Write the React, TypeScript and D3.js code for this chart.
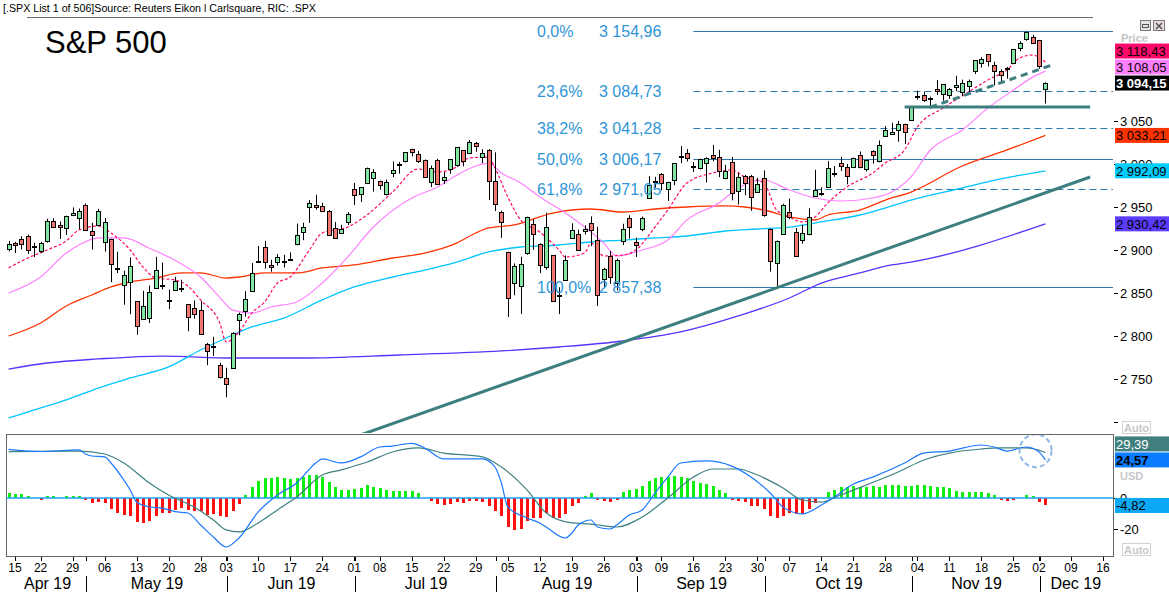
import React from "react";
import * as d3 from "d3";

// ---------- DATA ----------
const HOLIDAYS = ["2019-04-19", "2019-05-27", "2019-07-04", "2019-09-02", "2019-11-28"];
const FIRST_SESSION = "2019-04-12";
const AXIS_END = "2019-12-20";

const opens = [
  2900.86, 2908.32, 2912.26, 2916.04, 2904.81,
  2898.78, 2909.99, 2934.0, 2928.99, 2925.81,
  2940.58, 2937.14, 2952.33, 2922.16, 2929.21,
  2908.89, 2913.03, 2879.61, 2859.84, 2863.1,
  2840.19, 2820.12, 2820.38, 2855.8, 2858.6,
  2841.94, 2854.02, 2856.06, 2836.7, 2832.41,
  2830.03, 2790.25, 2786.94, 2766.15,
  2751.53, 2762.64, 2818.09, 2828.51, 2852.87,
  2885.83, 2903.27, 2882.73, 2886.24, 2886.82,
  2889.75, 2906.71, 2920.55, 2949.6, 2952.71,
  2951.42, 2945.78, 2926.07, 2919.66, 2932.94,
  2971.41, 2964.66, 2978.08, 2984.25,
  2979.77, 2965.52, 2989.3, 2999.62, 3003.36,
  3017.8, 3012.13, 3005.1, 2978.87, 3004.26,
  2981.93, 2994.74, 2998.77, 3016.26, 3013.25,
  3024.47, 3007.66, 3016.22, 2980.32, 2943.9,
  2898.07, 2861.18, 2858.65, 2896.21, 2930.51,
  2907.07, 2880.72, 2894.15, 2846.2, 2864.74,
  2913.48, 2919.01, 2922.04, 2930.94, 2911.07,
  2866.7, 2893.14, 2861.28, 2910.37, 2937.09,
  2909.01, 2924.67, 2960.6, 2980.33,
  2988.43, 2971.01, 2981.41, 3009.08, 3012.21,
  2996.41, 2995.67, 3001.5, 3010.36, 3008.42,
  2983.5, 3002.43, 2968.35, 2985.73, 2985.47,
  2967.07, 2983.69, 2924.78, 2885.38, 2918.56,
  2944.23, 2920.4, 2911.1, 2918.55, 2963.07,
  2965.81, 2973.61, 2989.68, 3000.77, 2996.84,
  2996.48, 3010.73, 2994.01, 3014.78, 3003.32,
  3032.12, 3035.39, 3039.74, 3046.9, 3050.72,
  3078.96, 3080.8, 3075.1, 3087.02, 3081.25,
  3080.33, 3089.28, 3084.18, 3090.75, 3107.92,
  3117.91, 3127.45, 3114.66, 3108.49, 3111.41,
  3117.44, 3134.85, 3145.49, 3147.18,
  3143.85, 3087.41,
];
const highs = [
  2910.54, 2909.6, 2916.06, 2918.0, 2908.4,
  2909.51, 2936.31, 2936.83, 2933.1, 2939.88,
  2949.52, 2948.22, 2954.13, 2931.68, 2947.85,
  2937.32, 2913.03, 2897.96, 2875.97, 2891.31,
  2840.19, 2852.54, 2858.68, 2892.15, 2885.48,
  2853.86, 2868.88, 2865.47, 2836.7, 2841.36,
  2840.51, 2792.03, 2799.0, 2768.98,
  2763.07, 2804.49, 2827.28, 2852.1, 2884.97,
  2904.77, 2910.61, 2888.57, 2895.24, 2894.45,
  2897.27, 2930.79, 2931.74, 2958.06, 2964.15,
  2954.92, 2946.52, 2932.59, 2929.3, 2943.98,
  2977.93, 2973.21, 2995.84, 2994.03,
  2980.76, 2981.9, 3002.98, 3002.33, 3013.92,
  3017.8, 3015.02, 3005.26, 2998.28, 3006.02,
  2990.71, 3005.9, 3019.59, 3016.31, 3027.98,
  3025.61, 3017.19, 3017.4, 3013.59, 2945.5,
  2898.07, 2884.4, 2892.17, 2938.72, 2935.75,
  2907.58, 2943.31, 2894.15, 2856.67, 2893.63,
  2931.0, 2923.63, 2928.73, 2939.08, 2927.01,
  2879.27, 2898.79, 2890.03, 2930.5, 2940.43,
  2914.39, 2938.84, 2985.86, 2985.03,
  2989.43, 2979.39, 3000.93, 3020.74, 3017.33,
  3002.19, 3006.21, 3007.83, 3021.99, 3016.37,
  2999.15, 3007.98, 2989.82, 2987.28, 2987.31,
  2983.85, 2992.53, 2924.78, 2911.13, 2953.74,
  2959.75, 2925.47, 2929.32, 2948.46, 2993.28,
  2972.84, 3003.28, 2997.54, 3008.29, 3000.0,
  3007.33, 3014.57, 3004.78, 3016.07, 3027.39,
  3044.08, 3047.87, 3050.1, 3046.9, 3066.95,
  3085.2, 3083.95, 3078.34, 3097.77, 3093.09,
  3088.33, 3102.61, 3098.06, 3098.2, 3120.46,
  3124.17, 3127.64, 3118.97, 3110.11, 3112.87,
  3133.83, 3142.69, 3154.26, 3150.3,
  3144.31, 3094.97,
];
const lows = [
  2898.37, 2896.48, 2900.71, 2895.45, 2891.9,
  2896.35, 2908.53, 2926.05, 2912.84, 2917.56,
  2939.35, 2924.11, 2923.36, 2900.5, 2929.21,
  2898.21, 2862.6, 2873.28, 2836.4, 2825.39,
  2801.43, 2820.12, 2815.08, 2855.8, 2854.23,
  2831.29, 2854.02, 2851.11, 2805.49, 2820.19,
  2801.58, 2766.06, 2776.74, 2750.52,
  2728.81, 2762.64, 2800.92, 2822.45, 2852.87,
  2885.51, 2878.53, 2874.68, 2881.99, 2879.62,
  2887.3, 2905.44, 2911.43, 2931.5, 2946.87,
  2944.05, 2916.01, 2912.99, 2918.57, 2929.05,
  2952.22, 2955.92, 2977.96, 2967.97,
  2970.09, 2963.44, 2984.62, 2988.8, 3001.87,
  3008.77, 3001.15, 2984.25, 2973.09, 2975.86,
  2976.65, 2988.56, 2996.82, 2997.24, 3012.59,
  3014.3, 3000.94, 2958.08, 2945.23, 2914.11,
  2822.12, 2847.42, 2825.71, 2894.47, 2900.15,
  2873.14, 2877.05, 2839.64, 2825.51, 2864.74,
  2913.48, 2899.6, 2917.91, 2904.51, 2834.97,
  2856.0, 2860.59, 2853.05, 2905.67, 2913.32,
  2891.85, 2921.86, 2960.6, 2972.51,
  2969.39, 2957.01, 2975.31, 3000.92, 3002.9,
  2990.67, 2993.73, 2978.57, 3003.16, 2984.68,
  2982.23, 2957.73, 2952.86, 2963.71, 2945.53,
  2967.07, 2938.7, 2874.93, 2855.94, 2918.56,
  2935.68, 2892.66, 2907.41, 2917.12, 2963.07,
  2962.94, 2973.61, 2985.2, 2991.79, 2976.31,
  2995.35, 2995.04, 2991.21, 3000.42, 3001.94,
  3032.12, 3034.81, 3025.96, 3023.19, 3050.72,
  3074.87, 3072.15, 3065.89, 3080.23, 3073.58,
  3075.82, 3084.73, 3078.8, 3083.26, 3104.6,
  3112.06, 3113.47, 3091.41, 3094.55, 3099.26,
  3117.44, 3131.0, 3143.41, 3139.34,
  3110.78, 3070.33,
];
const closes = [
  2907.41, 2905.58, 2907.06, 2900.45, 2905.03,
  2907.97, 2933.68, 2927.25, 2926.17, 2939.88,
  2943.03, 2945.83, 2923.73, 2917.52, 2945.64,
  2932.47, 2884.05, 2879.42, 2870.72, 2881.4,
  2811.87, 2834.41, 2850.96, 2876.32, 2859.53,
  2840.23, 2864.36, 2856.27, 2822.24, 2826.06,
  2802.39, 2783.02, 2788.86, 2752.06,
  2744.45, 2803.27, 2826.15, 2843.49, 2873.34,
  2886.73, 2885.72, 2879.84, 2891.64, 2886.98,
  2889.67, 2917.75, 2926.46, 2954.18, 2950.46,
  2945.35, 2917.38, 2913.78, 2924.92, 2941.76,
  2964.33, 2973.01, 2995.82, 2990.41,
  2975.95, 2979.63, 2993.07, 2999.91, 3013.77,
  3014.3, 3004.04, 2984.42, 2995.11, 2976.61,
  2985.03, 3005.47, 3019.56, 3003.67, 3025.86,
  3020.97, 3013.18, 2980.38, 2953.56, 2932.05,
  2844.74, 2881.77, 2883.98, 2938.09, 2918.65,
  2882.7, 2926.32, 2840.6, 2847.6, 2888.68,
  2923.65, 2900.51, 2924.43, 2922.95, 2847.11,
  2878.38, 2869.16, 2887.94, 2924.58, 2926.46,
  2906.27, 2937.78, 2976.0, 2978.71,
  2978.43, 2979.39, 3000.93, 3009.57, 3007.39,
  2997.96, 3005.7, 3006.73, 3006.79, 2992.07,
  2991.78, 2966.6, 2984.87, 2977.62, 2961.79,
  2976.74, 2940.25, 2887.61, 2910.63, 2952.01,
  2938.79, 2893.06, 2919.4, 2938.13, 2970.27,
  2966.15, 2995.68, 2989.69, 2997.95, 2986.2,
  3006.72, 2995.99, 3004.52, 3010.29, 3022.55,
  3039.42, 3036.89, 3046.77, 3037.56, 3066.91,
  3078.27, 3074.62, 3076.78, 3085.18, 3093.08,
  3087.01, 3091.84, 3094.04, 3096.63, 3120.46,
  3122.03, 3120.18, 3108.46, 3103.54, 3110.29,
  3133.64, 3140.52, 3153.63, 3140.98,
  3113.87, 3094.15,
];

// moving averages (date, value)
const ema10 = [
  ["2019-04-12", 2879.1], ["2019-04-17", 2890.7], ["2019-04-23", 2900], ["2019-04-26", 2910.5],
  ["2019-04-30", 2923.3], ["2019-05-03", 2927.9], ["2019-05-07", 2919.8], ["2019-05-10", 2900],
  ["2019-05-14", 2880.2], ["2019-05-16", 2867.4], ["2019-05-21", 2865.1], ["2019-05-23", 2858.1],
  ["2019-05-28", 2841.9], ["2019-05-31", 2815.1], ["2019-06-03", 2793], ["2019-06-05", 2804.7],
  ["2019-06-07", 2826.7], ["2019-06-11", 2839.5], ["2019-06-13", 2861.6], ["2019-06-17", 2868.6],
  ["2019-06-20", 2900], ["2019-06-24", 2919.8], ["2019-06-28", 2926.7], ["2019-07-03", 2940.7],
  ["2019-07-10", 2967.4], ["2019-07-16", 2994.2], ["2019-07-19", 2990.7], ["2019-07-24", 2996.5],
  ["2019-07-26", 3007], ["2019-07-31", 3008.1], ["2019-08-01", 2995.3], ["2019-08-05", 2961.6],
  ["2019-08-07", 2934.9], ["2019-08-12", 2920.9], ["2019-08-15", 2900], ["2019-08-16", 2891.9],
  ["2019-08-21", 2896.5], ["2019-08-22", 2908.1], ["2019-08-26", 2893], ["2019-08-29", 2894.2],
  ["2019-09-03", 2900], ["2019-09-06", 2926.7], ["2019-09-10", 2946.5], ["2019-09-13", 2977.9],
  ["2019-09-19", 2989.5], ["2019-09-24", 2993], ["2019-09-26", 2984.9], ["2019-10-01", 2977.9],
  ["2019-10-03", 2946.5], ["2019-10-07", 2938.4], ["2019-10-09", 2932.6], ["2019-10-11", 2938.4],
  ["2019-10-15", 2954.7], ["2019-10-18", 2973.3], ["2019-10-24", 2989.5], ["2019-10-28", 3001.2],
  ["2019-10-31", 3016.3], ["2019-11-04", 3043], ["2019-11-08", 3065.1], ["2019-11-14", 3083.7],
  ["2019-11-19", 3097.7], ["2019-11-22", 3109.3], ["2019-11-26", 3123.3], ["2019-11-29", 3126.7],
  ["2019-12-03", 3118.43],
];
const sma20 = [
  ["2019-04-12", 2850], ["2019-04-22", 2868.6], ["2019-04-26", 2896.5], ["2019-04-30", 2905.8],
  ["2019-05-03", 2914], ["2019-05-09", 2914], ["2019-05-15", 2902], ["2019-05-21", 2888],
  ["2019-05-28", 2868.6], ["2019-05-31", 2845], ["2019-06-04", 2830], ["2019-06-07", 2826.7],
  ["2019-06-12", 2833.7], ["2019-06-18", 2839.5], ["2019-06-24", 2861.6], ["2019-06-28", 2892],
  ["2019-07-05", 2926.7], ["2019-07-15", 2960.5], ["2019-07-19", 2973.3], ["2019-07-24", 2987],
  ["2019-07-29", 2997.7], ["2019-07-31", 3001], ["2019-08-02", 2989.5], ["2019-08-07", 2978],
  ["2019-08-12", 2961.6], ["2019-08-16", 2943], ["2019-08-21", 2926.7], ["2019-08-26", 2908],
  ["2019-08-28", 2893], ["2019-09-04", 2900], ["2019-09-10", 2911.6], ["2019-09-13", 2935],
  ["2019-09-20", 2954.7], ["2019-09-25", 2972], ["2019-10-01", 2981.4], ["2019-10-07", 2969.8],
  ["2019-10-11", 2960.5], ["2019-10-17", 2957], ["2019-10-24", 2960.5], ["2019-10-29", 2967.4],
  ["2019-11-01", 2985], ["2019-11-06", 3016], ["2019-11-13", 3039.5], ["2019-11-19", 3065],
  ["2019-11-25", 3086], ["2019-11-29", 3101], ["2019-12-03", 3108.05],
];
const sma50 = [
  ["2019-04-12", 2800], ["2019-04-22", 2815.1], ["2019-04-26", 2834.9], ["2019-05-02", 2847.7],
  ["2019-05-07", 2857], ["2019-05-10", 2862.8], ["2019-05-16", 2867.4], ["2019-05-22", 2873.3],
  ["2019-05-28", 2873.3], ["2019-06-03", 2867.4], ["2019-06-05", 2868.6], ["2019-06-11", 2873.3],
  ["2019-06-18", 2873.3], ["2019-06-24", 2879.1], ["2019-07-01", 2882.6], ["2019-07-10", 2890.7],
  ["2019-07-17", 2896.5], ["2019-07-24", 2908.1], ["2019-07-29", 2919.8], ["2019-07-31", 2925.6],
  ["2019-08-06", 2929.1], ["2019-08-14", 2943], ["2019-08-22", 2947.7], ["2019-08-29", 2944.2],
  ["2019-09-06", 2947.7], ["2019-09-13", 2950], ["2019-09-23", 2951.2], ["2019-09-26", 2950],
  ["2019-10-01", 2946.5], ["2019-10-07", 2938.4], ["2019-10-11", 2934.9], ["2019-10-15", 2940.7],
  ["2019-10-22", 2946.5], ["2019-10-28", 2958.1], ["2019-11-01", 2967.4], ["2019-11-13", 2997.7],
  ["2019-11-22", 3016.3], ["2019-12-03", 3033.21],
];
const sma100 = [
  ["2019-04-12", 2704.7], ["2019-04-18", 2714], ["2019-04-26", 2725.6], ["2019-05-03", 2739.5],
  ["2019-05-10", 2751.2], ["2019-05-20", 2764], ["2019-05-28", 2783.7], ["2019-06-03", 2797.7],
  ["2019-06-07", 2810.5], ["2019-06-14", 2820.9], ["2019-06-24", 2841.9], ["2019-07-01", 2857],
  ["2019-07-10", 2868.6], ["2019-07-17", 2876.7], ["2019-07-24", 2886], ["2019-07-31", 2897.7],
  ["2019-08-07", 2903.5], ["2019-08-15", 2905.8], ["2019-08-22", 2909.3], ["2019-08-29", 2911.6],
  ["2019-09-06", 2914], ["2019-09-13", 2916.3], ["2019-09-23", 2922.1], ["2019-09-30", 2924.4],
  ["2019-10-07", 2926.7], ["2019-10-14", 2932.6], ["2019-10-22", 2940.7], ["2019-10-29", 2951.2],
  ["2019-11-01", 2958.1], ["2019-11-13", 2972.1], ["2019-11-21", 2982.6], ["2019-12-03", 2992.09],
];
const sma200 = [
  ["2019-04-12", 2761.6], ["2019-04-23", 2768.6], ["2019-05-03", 2773.3], ["2019-05-17", 2776.7],
  ["2019-06-04", 2774.4], ["2019-06-19", 2774.4], ["2019-07-11", 2777.9], ["2019-08-02", 2782.6],
  ["2019-08-15", 2787.2], ["2019-08-29", 2794.2], ["2019-09-12", 2804.7], ["2019-09-25", 2823.3],
  ["2019-10-07", 2844.2], ["2019-10-14", 2861.6], ["2019-10-22", 2873.3], ["2019-10-29", 2882.6],
  ["2019-11-01", 2886], ["2019-12-03", 2930.42],
];

// MACD panel (USD)
const macdLine = [
  ["2019-04-12", 31.4], ["2019-04-22", 30.0], ["2019-04-30", 31.0], ["2019-05-01", 28.4],
  ["2019-05-02", 27.1], ["2019-05-06", 26.5], ["2019-05-07", 22.6], ["2019-05-09", 11.6],
  ["2019-05-10", 5.2], ["2019-05-13", -2.6], ["2019-05-15", -5.8], ["2019-05-17", -6.5],
  ["2019-05-21", -8.8], ["2019-05-23", -9.7], ["2019-05-28", -17.4], ["2019-05-30", -25.2],
  ["2019-06-03", -31.6], ["2019-06-05", -25.8], ["2019-06-10", -9.0], ["2019-06-13", 1.9],
  ["2019-06-18", 9.7], ["2019-06-21", 22.6], ["2019-06-24", 25.2], ["2019-06-27", 22.6],
  ["2019-07-02", 26.5], ["2019-07-08", 32.9], ["2019-07-10", 33.5], ["2019-07-15", 35.3],
  ["2019-07-17", 32.3], ["2019-07-22", 25.2], ["2019-07-30", 25.2], ["2019-08-01", 20.0],
  ["2019-08-02", 9.7], ["2019-08-05", -5.8], ["2019-08-08", -12.9], ["2019-08-12", -16.1],
  ["2019-08-13", -18.7], ["2019-08-16", -25.8], ["2019-08-19", -22.6], ["2019-08-20", -17.4],
  ["2019-08-22", -14.2], ["2019-08-23", -18.7], ["2019-08-27", -20.0], ["2019-08-28", -17.4],
  ["2019-08-30", -11.0], ["2019-09-04", -7.7], ["2019-09-06", 3.2], ["2019-09-10", 13.5],
  ["2019-09-12", 22.6], ["2019-09-18", 23.9], ["2019-09-24", 20.6], ["2019-09-27", 13.5],
  ["2019-10-02", 3.2], ["2019-10-04", -5.8], ["2019-10-08", -9.7], ["2019-10-09", -10.3],
  ["2019-10-14", -4.5], ["2019-10-16", 0.6], ["2019-10-21", 9.0], ["2019-10-24", 13.5],
  ["2019-10-31", 22.6], ["2019-11-05", 29.0], ["2019-11-11", 30.3], ["2019-11-18", 34.2],
  ["2019-11-20", 32.9], ["2019-11-22", 30.3], ["2019-11-27", 32.9], ["2019-12-02", 29.7],
  ["2019-12-03", 24.57],
];
const signalLine = [
  ["2019-04-12", 29.9], ["2019-04-30", 30.3], ["2019-05-06", 28.4], ["2019-05-09", 22.6],
  ["2019-05-15", 9.7], ["2019-05-20", 1.9], ["2019-05-24", -5.8], ["2019-05-30", -14.2],
  ["2019-06-03", -20.6], ["2019-06-05", -21.9], ["2019-06-10", -16.1], ["2019-06-13", -7.7],
  ["2019-06-18", 0.6], ["2019-06-24", 14.8], ["2019-06-27", 18.1], ["2019-07-03", 23.2],
  ["2019-07-10", 29.7], ["2019-07-16", 32.3], ["2019-07-22", 29.0], ["2019-07-30", 26.5],
  ["2019-08-02", 20.0], ["2019-08-08", 5.2], ["2019-08-13", -9.7], ["2019-08-19", -16.1],
  ["2019-08-22", -16.8], ["2019-08-28", -18.7], ["2019-09-04", -12.3], ["2019-09-10", 0],
  ["2019-09-16", 13.5], ["2019-09-19", 18.7], ["2019-09-25", 18.7], ["2019-09-30", 14.8],
  ["2019-10-04", 6.5], ["2019-10-09", -1.3], ["2019-10-14", -2.6], ["2019-10-17", 1.9],
  ["2019-10-23", 8.4], ["2019-10-30", 16.8], ["2019-11-05", 24.5], ["2019-11-11", 29.0],
  ["2019-11-18", 31.6], ["2019-11-21", 32.3], ["2019-11-27", 32.3], ["2019-12-03", 29.39],
];
const macdHist = [
  3.2, 2.6, 2.8, 1.3, 0, -1.3, 1.3, 1.3, 0, 1.3,
  1.3, 1.3, -1.3, -3.2, -2.6, -3.2, -7.1, -9.7, -11.0, -11.6,
  -15.5, -16.1, -14.8, -11.6, -9.7, -9.7, -7.7, -6.5, -7.7, -8.4,
  -8.4, -11.0, -10.3, -11.6, -12.3, -8.4, -3.9, 1.9, 7.1, 11.0,
  12.9, 12.9, 13.5, 12.9, 12.3, 12.9, 13.5, 14.8, 14.8, 13.5,
  10.3, 7.1, 5.2, 5.2, 5.8, 6.5, 8.4, 7.1, 6.5, 5.2,
  4.5, 4.5, 4.5, 4.5, 3.2, 0, -1.9, -3.9, -4.5, -3.9,
  -2.6, -3.2, -1.9, -1.9, -2.6, -5.2, -8.4, -11.6, -18.7, -20.6,
  -20.0, -14.8, -12.9, -12.9, -9.7, -12.9, -12.9, -10.3, -5.2, -3.2,
  1.3, 3.2, -1.3, -1.9, -2.6, -1.3, 3.9, 5.2, 5.8, 7.7,
  11.0, 12.9, 13.5, 13.5, 14.2, 13.5, 12.9, 11.0, 9.7, 9.0,
  7.7, 5.2, 3.2, -1.3, -1.9, -2.6, -5.2, -5.2, -7.1, -11.6,
  -12.9, -11.6, -9.7, -10.3, -10.3, -7.1, -3.2, 0, 3.9, 5.2,
  7.1, 7.1, 7.7, 7.1, 7.1, 7.7, 7.1, 8.4, 8.4, 8.4,
  7.7, 7.7, 8.4, 8.4, 7.7, 7.1, 7.1, 6.5, 4.5, 3.9,
  3.9, 3.9, 3.9, 3.2, 1.9, -1.3, -1.9, -1.3, 0, 1.9,
  1.3, -2.6, -4.82,
];

// Fibonacci retracement
const fibPercents = ["0,0%", "23,6%", "38,2%", "50,0%", "61,8%", "100,0%"];
const fibValues = [3154.96, 3084.73, 3041.28, 3006.17, 2971.05, 2857.38];
const FIB_START = "2019-09-16";

// drawn trend lines (date, price)
const trendLine = [["2019-07-02", 2685.0], ["2019-12-12", 2984.9]];
const supportLine = [["2019-11-06", 3066.0], ["2019-12-04", 3115.0]];
const rangeLine = [["2019-10-31", 3066.3], ["2019-12-12", 3066.3]];

// axis ticks (labels that the value tags fully hide are left out)
const priceTicks = [2700, 2750, 2800, 2850, 2900, 2950, 3000, 3050];
const priceTickLabels = ["", "2 750", "2 800", "2 850", "2 900", "2 950", "3 000", "3 050"];
const macdTicks = [-20, 0];
const macdTickLabels = ["-20", "0"];

// ---------- HELPERS ----------
function buildSessions(start: string, end: string, holidays: string[]) {
  const out: string[] = [];
  const d = new Date(start + "T00:00:00Z");
  const e = new Date(end + "T00:00:00Z");
  while (d <= e) {
    const dow = d.getUTCDay();
    const iso = d.toISOString().slice(0, 10);
    if (dow !== 0 && dow !== 6 && !holidays.includes(iso)) out.push(iso);
    d.setUTCDate(d.getUTCDate() + 1);
  }
  return out;
}

const days = buildSessions(FIRST_SESSION, AXIS_END, HOLIDAYS);
const dayIndex = new Map(days.map((d, i) => [d, i]));

const loc = d3.formatLocale({ decimal: ",", thousands: " ", grouping: [3], currency: ["", ""], minus: "-" } as any);
const fmt2 = loc.format(",.2f");

const FONT = "Liberation Sans, Arial, sans-serif";

export default function App() {
  const W = 1169;
  const H = 592;
  const PLOT_R = 1113;
  const P_TOP = 17;
  const P_BOT = 433;
  const M_TOP = 435;
  const M_BOT = 556;

  const x = d3.scaleLinear().domain([0, 171]).range([8.6, 1103]);
  const xd = (date: string) => x(dayIndex.get(date) as number);
  const yP = d3.scaleLinear().domain([2700, 3150]).range([422, 35]);
  const yM = d3.scaleLinear().domain([-20, 0]).range([529, 498]);

  const priceLine = d3.line<any>().x((d) => xd(d[0])).y((d) => yP(d[1])).curve(d3.curveMonotoneX);
  const macdGen = d3.line<any>().x((d) => xd(d[0])).y((d) => yM(d[1])).curve(d3.curveMonotoneX);
  const straight = d3.line<any>().x((d) => xd(d[0])).y((d) => yP(d[1]));

  const upFill = "#80e6a2";
  const downFill = "#f0766f";

  // axis helpers
  const weekStarts: number[] = [];
  const monthStarts: number[] = [];
  days.forEach((d, i) => {
    if (i === 0) return;
    const a = new Date(d + "T00:00:00Z").getUTCDay();
    const b = new Date(days[i - 1] + "T00:00:00Z").getUTCDay();
    if (a <= b && x(i) <= 1110) weekStarts.push(i);
    if (d.slice(5, 7) !== days[i - 1].slice(5, 7) && x(i) <= 1110) monthStarts.push(i);
  });
  const sepX = monthStarts.map((i) => Math.round(x(i)) + 1.5);
  const segBounds = [x(0), ...sepX, 1111];
  const segMonthIdx = [0, ...monthStarts];
  const monthFmt = d3.utcFormat("%b %y");

  // value tags (stacked upward to avoid overlap)
  const stack = (tags: any[], yOf: (v: number) => number, h: number, gap: number) => {
    const withY = tags.map((t) => ({ ...t, cy: yOf(t.value) }));
    const sorted = [...withY].sort((a, b) => b.cy - a.cy);
    for (let k = 1; k < sorted.length; k++) {
      const lim = sorted[k - 1].cy - (h + gap);
      if (sorted[k].cy > lim) sorted[k].cy = lim;
    }
    return withY;
  };
  const last = (s: any[]) => s[s.length - 1][1];
  const priceTags = stack(
    [
      { value: last(ema10), bg: "#ff0a6c", fg: "#000", bold: false },
      { value: last(sma20), bg: "#ff80ff", fg: "#000", bold: false },
      { value: closes[closes.length - 1], bg: "#000", fg: "#fff", bold: true },
      { value: last(sma50), bg: "#ff3300", fg: "#000", bold: false },
      { value: last(sma100), bg: "#00ccff", fg: "#000", bold: false },
      { value: last(sma200), bg: "#5a3cff", fg: "#000", bold: false },
    ],
    yP, 15, 1
  );
  const macdTags = stack(
    [
      { value: last(signalLine), bg: "#3f7f7f", fg: "#fff", bold: false },
      { value: last(macdLine), bg: "#0a7cff", fg: "#000", bold: true },
      { value: macdHist[macdHist.length - 1], bg: "#0aa8f5", fg: "#000", bold: false },
    ],
    yM, 15, 1
  );

  const tealC = "#3d7f7f";
  const fibC = "#2b7bb0";

  return (
    <svg
      width={W}
      height={H}
      style={{ position: "absolute", left: 0, top: 0, background: "#fff" }}
      fontFamily={FONT}
    >
      <defs>
        <clipPath id="pclip">
          <rect x={0} y={P_TOP + 1} width={PLOT_R} height={P_BOT - P_TOP - 1} />
        </clipPath>
        <clipPath id="mclip">
          <rect x={6} y={M_TOP} width={PLOT_R - 6} height={M_BOT - M_TOP} />
        </clipPath>
      </defs>
      <rect x={0} y={0} width={W} height={H} fill="#fff" />

      {/* header */}
      <text x={3} y={12} fontSize={11} fill="#000" textLength={313} lengthAdjust="spacingAndGlyphs">
        [.SPX List 1 of 506]Source: Reuters Eikon l Carlsquare, RIC: .SPX
      </text>
      <line x1={27} x2={1093} y1={17.5} y2={17.5} stroke="#666" />

      {/* price panel */}
      <g clipPath="url(#pclip)">
        {fibValues.map((v, i) => (
          <line
            key={"fib" + i}
            x1={xd(FIB_START)}
            x2={PLOT_R}
            y1={Math.round(yP(v)) + 0.5}
            y2={Math.round(yP(v)) + 0.5}
            stroke={fibC}
            strokeWidth={1}
            strokeDasharray={i === 1 || i === 2 || i === 4 ? "7,4" : undefined}
          />
        ))}
        <path d={priceLine(sma200 as any) || ""} fill="none" stroke="#5a32ff" strokeWidth={1.3} />
        <path d={priceLine(sma100 as any) || ""} fill="none" stroke="#00c4ff" strokeWidth={1.3} />
        <path d={priceLine(sma50 as any) || ""} fill="none" stroke="#ff3300" strokeWidth={1.3} />
        <path d={priceLine(sma20 as any) || ""} fill="none" stroke="#ff80ff" strokeWidth={1.2} />
        <path d={priceLine(ema10 as any) || ""} fill="none" stroke="#ff0a6c" strokeWidth={1.2} strokeDasharray="3,2" />

        {closes.map((c, i) => {
          const o = opens[i];
          const cx = Math.round(x(i));
          const top = Math.round(yP(Math.max(o, c)));
          const bot = Math.round(yP(Math.min(o, c)));
          return (
            <g key={"c" + i}>
              <line x1={cx + 0.5} x2={cx + 0.5} y1={yP(highs[i])} y2={yP(lows[i])} stroke="#000" strokeWidth={1} />
              <rect
                x={cx - 1.5}
                y={top + 0.5}
                width={4}
                height={Math.max(1, bot - top)}
                fill={c >= o ? upFill : downFill}
                stroke="#000"
                strokeWidth={1}
              />
            </g>
          );
        })}

        <path d={straight(trendLine as any) || ""} stroke={tealC} strokeWidth={3} fill="none" />
        <path d={straight(rangeLine as any) || ""} stroke={tealC} strokeWidth={3} fill="none" />
        <path d={straight(supportLine as any) || ""} stroke={tealC} strokeWidth={3} fill="none" strokeDasharray="7,5" />
      </g>

      {/* fib labels */}
      {fibValues.map((v, i) => (
        <g key={"fl" + i} fontSize={16} fill="#2f95d8">
          <text x={537} y={yP(v) + 6}>{fibPercents[i]}</text>
          <text x={599} y={yP(v) + 6}>{fmt2(v)}</text>
        </g>
      ))}

      {/* title */}
      <text x={45} y={53} fontSize={31} fill="#000">S&amp;P 500</text>

      {/* price axis */}
      {priceTicks.map((t, k) => (
        <g key={"pt" + t}>
          <line x1={1114} x2={1118} y1={Math.round(yP(t)) + 0.5} y2={Math.round(yP(t)) + 0.5} stroke="#000" />
          {priceTickLabels[k] && (
            <text x={1120} y={yP(t) + 5} fontSize={13} fill="#000">{priceTickLabels[k]}</text>
          )}
        </g>
      ))}
      <text x={1121} y={42} fontSize={11} fontWeight="bold" fill="#c4c4c4">Price</text>
      {priceTags.map((t, i) => (
        <g key={"tag" + i}>
          <rect x={1115} y={t.cy - 7.5} width={54} height={15} fill={t.bg} />
          <text x={1116} y={t.cy + 5} fontSize={13} fill={t.fg} fontWeight={t.bold ? "bold" : "normal"}>
            {fmt2(t.value)}
          </text>
        </g>
      ))}
      {/* window buttons */}
      <rect x={1140.5} y={20.5} width={10} height={10} fill="#e4e4e4" stroke="#7a7a7a" />
      <rect x={1142.5} y={24.5} width={6} height={3} fill="none" stroke="#555" />
      <rect x={1153.5} y={20.5} width={11} height={10} fill="#eadada" stroke="#7a7a7a" />
      <path d="M1156,23 L1162,29 M1162,23 L1156,29" stroke="#555" strokeWidth={1.5} />
      <rect x={1122.5} y={421.5} width={28} height={12} fill="#fff" stroke="#d2d2d2" />
      <text x={1124} y={431.5} fontSize={11} fontWeight="bold" fill="#c8c8c8">Auto</text>

      {/* MACD panel */}
      <line x1={6} x2={1114} y1={434.5} y2={434.5} stroke="#666" />
      <line x1={6.5} x2={6.5} y1={434.5} y2={M_BOT} stroke="#666" />
      <line x1={1113.5} x2={1113.5} y1={434.5} y2={M_BOT} stroke="#666" />
      <line x1={6} x2={1114} y1={M_BOT + 0.5} y2={M_BOT + 0.5} stroke="#666" />
      <g clipPath="url(#mclip)">
        {macdHist.map((v, i) =>
          v === 0 ? null : (
            <rect
              key={"h" + i}
              x={Math.round(x(i)) - 1}
              y={Math.min(yM(0), yM(v))}
              width={3}
              height={Math.abs(yM(v) - yM(0))}
              fill={v > 0 ? "#11ee11" : "#ff1010"}
              shapeRendering="crispEdges"
            />
          )
        )}
        <line x1={6} x2={PLOT_R} y1={yM(0)} y2={yM(0)} stroke="#1ea2f2" strokeWidth={1.6} />
        <path d={macdGen(signalLine as any) || ""} fill="none" stroke="#3f8080" strokeWidth={1.2} />
        <path d={macdGen(macdLine as any) || ""} fill="none" stroke="#1a78ff" strokeWidth={1.2} />
        <ellipse
          cx={xd("2019-11-29") + 3}
          cy={yM(30.5)}
          rx={16}
          ry={16.5}
          fill="none"
          stroke="#8fb6e6"
          strokeWidth={2}
          strokeDasharray="5,3"
        />
      </g>
      {macdTicks.map((t, k) => (
        <g key={"mt" + t}>
          <line x1={1114} x2={1118} y1={Math.round(yM(t)) + 0.5} y2={Math.round(yM(t)) + 0.5} stroke="#000" />
          <text x={1120} y={yM(t) + 5} fontSize={13} fill="#000">{macdTickLabels[k]}</text>
        </g>
      ))}
      <text x={1120} y={480} fontSize={11} fontWeight="bold" fill="#c8c8c8">USD</text>
      {macdTags.map((t, i) => (
        <g key={"mtag" + i}>
          <rect x={1115} y={t.cy - 7.5} width={54} height={15} fill={t.bg} />
          <text x={1116} y={t.cy + 5} fontSize={13} fill={t.fg} fontWeight={t.bold ? "bold" : "normal"}>
            {fmt2(t.value)}
          </text>
        </g>
      ))}
      <rect x={1122.5} y={543.5} width={28} height={12} fill="#fff" stroke="#d2d2d2" />
      <text x={1124} y={553.5} fontSize={11} fontWeight="bold" fill="#c8c8c8">Auto</text>

      {/* time axis */}
      {weekStarts.map((i) => (
        <g key={"w" + i}>
          <line x1={Math.round(x(i)) + 0.5} x2={Math.round(x(i)) + 0.5} y1={557} y2={561} stroke="#000" />
          <text x={x(i)} y={572} fontSize={12} textAnchor="middle" fill="#000">
            {days[i].slice(8, 10)}
          </text>
        </g>
      ))}
      {sepX.map((sx, k) => (
        <g key={"s" + k}>
          <line x1={sx} x2={sx} y1={557} y2={561} stroke="#000" />
          <line x1={sx} x2={sx} y1={576} y2={592} stroke="#000" />
        </g>
      ))}
      {segMonthIdx.map((mi, k) => (
        <text
          key={"m" + k}
          x={(segBounds[k] + segBounds[k + 1]) / 2}
          y={589}
          fontSize={16}
          textAnchor="middle"
          fill="#000"
        >
          {monthFmt(new Date(days[mi] + "T00:00:00Z"))}
        </text>
      ))}
    </svg>
  );
}
